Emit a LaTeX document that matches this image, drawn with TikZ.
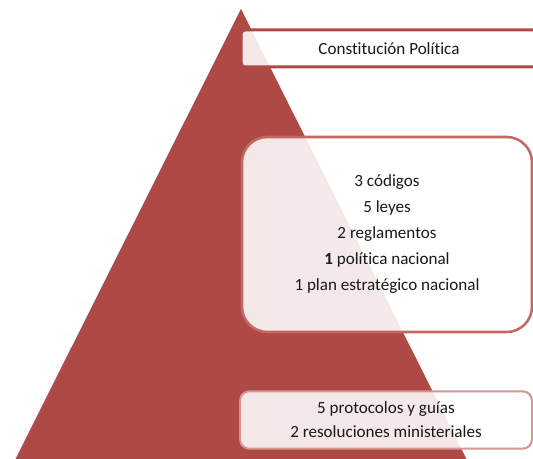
\documentclass[tikz,border=0pt]{standalone}
\usepackage{fontspec}
\setmainfont{Carlito}[Ligatures={NoCommon}]
\usepackage{xcolor}
\definecolor{piramide}{RGB}{174,73,70}
\definecolor{bordemed}{RGB}{196,104,100}
\definecolor{bordebaj}{RGB}{214,150,148}

\begin{document}
\begin{tikzpicture}[x=0.75pt, y=-0.75pt,
  every node/.style={rectangle, fill=white, fill opacity=0.88, text opacity=1,
    inner sep=0pt, align=center, text=black!90},
  caja/.style={minimum width=#1},
  caja/.default=219pt]
\useasboundingbox (0,0) rectangle (533,459);
\clip (0,0) rectangle (533,459);
\fill[piramide] (241,9) -- (468,462) -- (14,462) -- cycle;
\node (B0) at (389,48.5) [caja=222pt, minimum height=27.75pt, rounded corners=3pt,
  draw=piramide, line width=2.25pt, font=\fontsize{12.8}{15}\selectfont] {Constitución Política};
\node (B1) at (387,234.5) [caja=217.5pt, minimum height=146.25pt, rounded corners=19pt,
  draw=bordemed, line width=1.9pt, font=\fontsize{12.8}{19.5}\selectfont]
  {3 códigos\\5 leyes\\2 reglamentos\\\textbf{1} política nacional\\1 plan estratégico nacional};
\node (B2) at (386,420) [caja, minimum height=43pt, rounded corners=7pt,
  draw=bordebaj, line width=1.5pt, font=\fontsize{12.8}{18}\selectfont]
  {5 protocolos y guías\\2 resoluciones ministeriales};
\end{tikzpicture}
\end{document}
